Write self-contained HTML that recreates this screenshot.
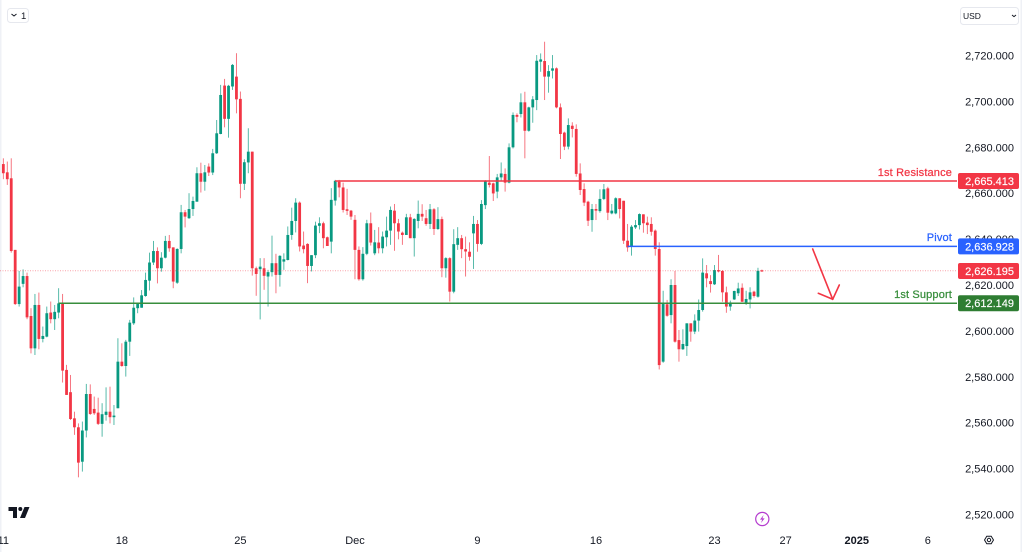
<!DOCTYPE html>
<html lang="en">
<head>
<meta charset="utf-8">
<title>XAUUSD 4H chart</title>
<style>
html,body{margin:0;padding:0;background:#fff;}
body{width:1022px;height:552px;overflow:hidden;font-family:"Liberation Sans",sans-serif;}
svg{display:block;}
text{font-family:"Liberation Sans",sans-serif;}
</style>
</head>
<body>
<svg id="chart" width="1022" height="552" viewBox="0 0 1022 552" xmlns="http://www.w3.org/2000/svg">
  <rect x="0" y="0" width="1022" height="552" fill="#ffffff"/>
  <rect x="0" y="0" width="1.5" height="552" fill="#eff1f6"/>
  <rect x="1020.5" y="0" width="1.5" height="552" fill="#eff1f6"/>
  <g id="candles"></g>
  <g id="levels"></g>
  <g id="yaxis"></g>
  <g id="xaxis"></g>
  <g id="labels"></g>

  <g fill="none" stroke="#f23645" stroke-width="1.6" stroke-linecap="round">
    <line x1="812.7" y1="249" x2="832.7" y2="299.3"/>
    <line x1="818.3" y1="293.3" x2="832.7" y2="299.3"/>
    <line x1="839.3" y1="285" x2="832.7" y2="299.3"/>
  </g>

  <g>
    <rect x="7.5" y="8.5" width="21" height="14" rx="3" fill="#fff" stroke="#e6e8ee"/>
    <path d="M11.5 14l2.5 2 2.5-2" fill="none" stroke="#131722" stroke-width="1"/>
    <text x="21" y="19" font-size="9.5" fill="#131722">1</text>
  </g>

  <g>
    <rect x="960.5" y="7.5" width="58" height="17" rx="3" fill="#fff" stroke="#e6e8ee"/>
    <text x="963" y="19" font-size="8.5" fill="#131722">USD</text>
    <path d="M1012 15l2 1.6 2-1.6" fill="none" stroke="#131722" stroke-width="1"/>
  </g>

  <g fill="#131722">
    <path d="M8.5 507H17V518H13V511H8.5Z"/>
    <circle cx="20.3" cy="509" r="2"/>
    <path d="M24.5 507H29.5L25 518H20Z"/>
  </g>

  <g>
    <circle cx="762.3" cy="519" r="6.6" fill="none" stroke="#b53ccf" stroke-width="1.2"/>
    <path d="M763.6 515L760 519.6H762.2L761 523L764.6 518.4H762.4Z" fill="#b53ccf"/>
  </g>

  <g fill="none" stroke="#131722" stroke-width="1">
    <path d="M984.5 540L986.8 536.2H991.2L993.5 540L991.2 543.8H986.8Z"/>
    <circle cx="989" cy="540" r="1.7"/>
  </g>
</svg>
<script>
var opens = [
2672.7,2669.1,2666.5,2635.3,2611.7,2620.5,2623.9,2606.5,2592.4,2611.3,
2596.5,2597.5,2608,2605.1,2608,2612,2583,2573.3,2561.9,2558,
2543,2556.6,2572.5,2566,2564.4,2559.5,2563.4,2564.8,2562.4,2566.3,
2586.6,2584.7,2595.3,2603.3,2609.9,2610.1,2615.2,2621.9,2629.8,2634.8,
2627.3,2631.9,2639.2,2636.4,2621,2635.7,2651.7,2649.1,2653.1,2656.3,
2668.7,2665,2671.6,2669,2677.4,2685.8,2706.9,2692.4,2706.5,2710.8,
2701.1,2664.1,2673.4,2678.1,2627.3,2626.9,2627.3,2623.7,2625.6,2629.5,
2624.4,2630.2,2630.9,2641.8,2647.9,2655.9,2637.2,2637.9,2628.3,2633,
2645.8,2646.9,2640.8,2638.9,2656.8,2665,2662.5,2653,2652.4,2648.4,
2635.3,2622.5,2633.6,2646.9,2633.8,2638.5,2636,2640.8,2643.7,2652.4,
2646.9,2642.8,2641.8,2649.5,2640.4,2647.9,2651,2649.1,2646.6,2653,
2644.4,2648.7,2627.3,2631.7,2617.1,2637.5,2640.4,2635.6,2634.5,2642.5,
2646.6,2637.9,2654.8,2664.6,2664.3,2660.7,2666.9,2668.4,2664.6,2680,
2694.1,2694.5,2699.6,2687.2,2697.4,2700.6,2717.3,2717.6,2710.8,2713.4,
2714.4,2697.4,2686.4,2680.3,2689.4,2688,2668.6,2661.8,2656.3,2648.3,
2653.1,2652.2,2657.5,2662.1,2651.2,2651.2,2657.8,2656.7,2639.3,2636.7,
2645.1,2646.1,2650.8,2647.2,2646.6,2643.7,2635.7,2586.6,2611.6,2606.9,
2620,2596,2592,2593.4,2603.3,2599.7,2604.5,2609.1,2625.1,2621.7,
2620.3,2626.5,2626.1,2616.8,2610.6,2613.7,2616.4,2618.8,2612.4,2613.7,
2617.1,2614.9,2626.4];
var highs = [
2675.2,2673.8,2675.2,2635.3,2626.1,2626.8,2625.4,2609.9,2616.1,2616.7,
2601.9,2610.6,2612.8,2611.3,2618.6,2616.1,2585.2,2580.8,2564.8,2559.7,
2560.5,2576.9,2576.7,2571.4,2570.9,2568.5,2575.4,2575.7,2567.7,2596.8,
2594.6,2596.1,2604.8,2614.6,2612,2617.8,2625.4,2634.1,2639.2,2636.4,
2634.3,2641.4,2641.8,2636.4,2636,2654.9,2652.7,2660,2658.5,2671.3,
2673.3,2672.3,2673,2679.3,2691.9,2707.2,2709.8,2707.2,2716.3,2721,
2704.3,2674.8,2688.3,2678.1,2628,2631.7,2631.7,2626.6,2641.5,2633.6,
2633,2633.8,2645.5,2653.7,2657.8,2656.4,2643.3,2638.2,2633,2647.6,
2649.5,2647.6,2641.1,2662.2,2665.8,2665.8,2664.6,2661.9,2652.7,2650.5,
2636.8,2636.5,2648.4,2651.6,2644,2645.2,2643.3,2649.8,2654.2,2655.3,
2648.8,2643.3,2651,2651,2649.1,2656.8,2655.2,2652.7,2655.3,2653.5,
2653.9,2649.8,2632.1,2632.1,2644.3,2645.2,2641.8,2641.1,2638.6,2650.1,
2648.3,2657,2665.7,2676.2,2664.6,2668.4,2673.4,2670.8,2681.7,2695.2,
2694.8,2703.5,2704.2,2697.7,2702.3,2720.2,2720.9,2726,2715.8,2720.2,
2714.8,2699.1,2686.8,2692.6,2690.9,2690,2673,2664.3,2656.7,2655.3,
2655.3,2661.7,2664,2662.8,2655.3,2658.2,2657.8,2656.7,2646.6,2646.1,
2648.3,2651.2,2650.8,2649.8,2649.5,2644.2,2638.6,2617.5,2613.5,2622.5,
2626.1,2600.4,2600.7,2603.3,2603.3,2607.2,2613.7,2631.6,2628.7,2624.3,
2628.7,2633.1,2626.5,2619.3,2613.2,2617.5,2621,2620.7,2617.5,2619,
2617.5,2627.5,2626.7];
var lows = [
2666.1,2663.6,2634.1,2611.3,2610.6,2619,2605.1,2590.2,2589.5,2592,
2595,2597.2,2603.3,2600.4,2605.5,2577.5,2572.1,2561.2,2554.7,2536.2,
2538.7,2553.6,2563.4,2563.4,2559,2553.9,2560.9,2559.7,2559,2566.3,
2584.4,2580.1,2589.1,2602.6,2607.7,2610.1,2614.9,2617.6,2628.7,2620.7,
2625.8,2631.6,2634.5,2618.6,2620.5,2633.8,2645.1,2648.8,2650.1,2656.3,
2660.3,2661.1,2667.5,2667.9,2677.1,2685.7,2688.7,2684.2,2705,2694.8,
2657.8,2661.4,2668.7,2624.1,2615.3,2605,2617.9,2610.6,2623.7,2616.4,
2619.3,2626.6,2630.7,2639.7,2642.9,2634.6,2633.8,2620.8,2625.9,2631.7,
2642.6,2636,2637,2633.8,2654.6,2658.2,2651.6,2650.5,2648.4,2622.5,
2621.9,2621.9,2633,2637.2,2633,2633.8,2633.8,2636.8,2637.5,2634.9,
2639.9,2637.5,2641.8,2640.4,2632.4,2644.7,2647.9,2645.8,2644.4,2641.8,
2644,2623.4,2623.2,2612.8,2616.4,2635.3,2631.7,2623.7,2630.6,2627,
2634.5,2637.4,2653.1,2662.5,2656.6,2657.8,2665.5,2660.7,2664.3,2679.5,
2690.9,2693,2675.2,2686.8,2690.7,2696.2,2712.9,2700.6,2703.8,2710,
2697,2674.9,2678.8,2679.1,2684.3,2667.2,2659.2,2654.4,2645.7,2643.2,
2648.3,2651.5,2657,2648.3,2650.8,2650.8,2649,2637.9,2634.5,2632.8,
2644.4,2644.2,2642.8,2642.2,2641.5,2632.8,2583.2,2586.1,2606.2,2603.3,
2594.9,2586.6,2591.7,2589.1,2595.3,2598.6,2599.7,2608.4,2619,2616.7,
2620,2625.5,2612.7,2607.9,2608.8,2613.5,2615.2,2612.7,2611.3,2609.8,
2614.5,2614.5,2625.7];
var closes = [
2668.7,2666.1,2634.8,2611.7,2619.3,2623.9,2605.9,2592.4,2611.3,2596.5,
2597.8,2607.7,2605.1,2608.3,2612,2582.7,2572.1,2561.6,2558,2542.6,
2556.6,2572.5,2563.8,2564.1,2559.5,2563.7,2564.8,2562.4,2563.1,2586.6,
2584.7,2595.3,2603.6,2610.1,2611.7,2615.5,2622.2,2629.8,2634.8,2627.3,
2631.9,2639.2,2636,2621.5,2635.7,2651.7,2649.8,2653.1,2656.6,2668.7,
2665,2669.1,2669,2677.4,2686.1,2702.8,2692.4,2706.8,2715.9,2700.9,
2664.1,2673.5,2678.1,2627.3,2624.8,2628,2624,2625.6,2629.5,2624.4,
2632.7,2631.2,2641.8,2647.9,2655.9,2636.8,2635.6,2628.3,2633,2645.9,
2646.9,2640.4,2637,2657.1,2665.4,2662.5,2652.7,2652.3,2649.8,2635.3,
2622.5,2633.6,2646.9,2638.5,2638.6,2636,2641.1,2643.7,2652.7,2646.9,
2643.3,2641.8,2649.5,2640.4,2648.8,2651,2649.8,2646.6,2653,2644.4,
2648.7,2627.3,2631.7,2617.1,2637.8,2640.4,2635.6,2634.6,2632.3,2646.6,
2637.9,2655.3,2665.5,2663.6,2659.9,2666.9,2668.6,2664.6,2680,2694.1,
2693.3,2699.6,2687.2,2697.4,2700.9,2717.7,2718.3,2710.8,2713.2,2714.4,
2697.4,2685.8,2680.3,2689.7,2688,2668.4,2661.4,2655.9,2648,2653.1,
2652.4,2657.5,2661.7,2651.5,2652.4,2657.8,2653.1,2639.3,2636.4,2645.4,
2646.1,2650.9,2646.9,2646.1,2643.2,2635.7,2585.1,2611.7,2606.6,2620,
2595.3,2592,2594.3,2603.3,2599.7,2604.5,2609.1,2625.4,2622.9,2620.4,
2626.5,2625.9,2616.8,2610.6,2612.4,2617.4,2618.5,2612.7,2613.9,2616.8,
2615.2,2626.2,2625.9];

var priceTicks = [2720,2700,2680,2660,2640,2620,2600,2580,2560,2540,2520];
var timeTickLabels = ["11","18","25","Dec","9","16","23","27","2025","6"];
var timeTickBars = [0,30,60,89,120,150,180,198,216,234];
var levelNames = ["1st Resistance","Pivot","1st Support"];
var levelPrices = [2665.413,2636.928,2612.149];
var levelStartBars = [84,158,14];
var lastPrice = 2626.195;

var SVG_NS = "http://www.w3.org/2000/svg";
var UP = "#089981", DOWN = "#f23645";
var levelColors = ["#f23645","#2962ff","#388e3c"];
var levelBoxes = ["#f23645","#2962ff","#2e7d32"];

function xScale(bar){ return 3.33 + bar * 3.951; }
function yScale(price){ return 55.5 + (2720 - price) * 2.295; }
function fmt(v, d){
  var s = v.toFixed(d).split(".");
  return s[0].replace(/\B(?=(\d{3})+$)/g, ",") + "." + s[1];
}
function make(tag, parent, attrs){
  var el = document.createElementNS(SVG_NS, tag);
  for (var k in attrs) el.setAttribute(k, attrs[k]);
  parent.appendChild(el);
  return el;
}

var candlesG = document.getElementById("candles");
opens.forEach(function(o, i){
  var c = closes[i], color = c >= o ? UP : DOWN, x = xScale(i);
  var top = yScale(Math.max(o, c)), bot = yScale(Math.min(o, c));
  var wick = make("rect", candlesG, {x: x - 0.45, y: yScale(highs[i]), width: 0.9, height: Math.max(0.5, yScale(lows[i]) - yScale(highs[i])), fill: color, opacity: 0.75});
  
  
  var body = make("rect", candlesG, {x: x - 1.4, y: top, width: 2.8, height: Math.max(0.8, bot - top), fill: color});
  
  
});

var levelsG = document.getElementById("levels");
var lastLine = make("line", levelsG, {x1: 0, x2: 957, y1: yScale(lastPrice), y2: yScale(lastPrice), stroke: "#f23645", "stroke-width": 1, "stroke-dasharray": "1 1.5", opacity: 0.45});


levelPrices.forEach(function(p, i){
  var ln = make("line", levelsG, {x1: xScale(levelStartBars[i]), x2: 957, y1: yScale(p) + 0.2, y2: yScale(p) + 0.2, stroke: levelColors[i], "stroke-width": 1.5});
  
  
});

var yG = document.getElementById("yaxis");
priceTicks.forEach(function(t){
  var tx = make("text", yG, {x: 1014, y: yScale(t) + 4, "font-size": 11, fill: "#131722", "text-anchor": "end"});
  tx.textContent = fmt(t, 3);
  
  
});

var xG = document.getElementById("xaxis");
timeTickLabels.forEach(function(l, i){
  var tx = make("text", xG, {x: xScale(timeTickBars[i]), y: 544, "font-size": 11, fill: "#131722", "text-anchor": "middle", "font-weight": l === "2025" ? "bold" : "normal"});
  tx.textContent = l;
  
  
});

var labelsG = document.getElementById("labels");
function priceBox(p, color){
  var y = yScale(p);
  var r = make("rect", labelsG, {x: 958, y: y - 7.8, width: 61, height: 16, rx: 2, fill: color});
  
  
  var t = make("text", labelsG, {x: 1014, y: y + 4.2, "font-size": 11, fill: "#ffffff", stroke: "#ffffff", "stroke-width": 0.15, "text-anchor": "end"});
  t.textContent = fmt(p, 3);
  
  
}
levelPrices.forEach(function(p, i){
  priceBox(p, levelBoxes[i]);
  var n = make("text", labelsG, {x: 952, y: yScale(p) - 5, "font-size": 11, fill: levelColors[i], stroke: levelColors[i], "stroke-width": 0.25, "text-anchor": "end", "letter-spacing": "0.15"});
  n.textContent = levelNames[i];
  
  
});
priceBox(lastPrice, "#f23645");
</script>
</body>
</html>
